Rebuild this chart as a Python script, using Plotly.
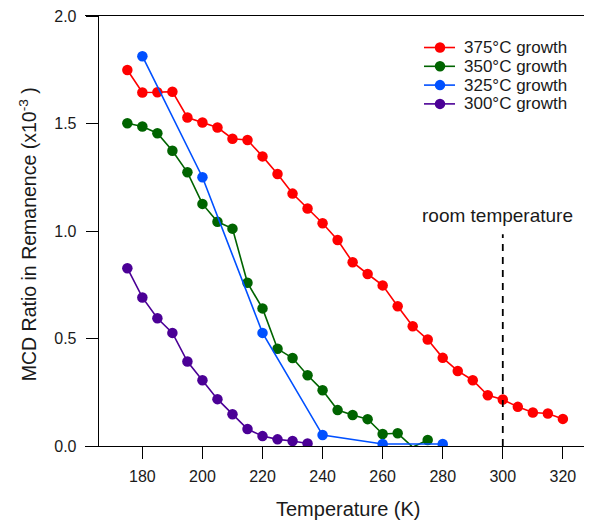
import plotly.graph_objects as go

# ---- data ----
temp_375 = [175, 180, 185, 190, 195, 200, 205, 210, 215, 220, 225, 230, 235, 240, 245,
            250, 255, 260, 265, 270, 275, 280, 285, 290, 295, 300, 305, 310, 315, 320]
mcd_375 = [1.749, 1.644, 1.645, 1.648, 1.528, 1.505, 1.481, 1.429, 1.423, 1.347, 1.265, 1.174,
           1.105, 1.036, 0.958, 0.855, 0.800, 0.747, 0.650, 0.557, 0.495, 0.410, 0.349, 0.306,
           0.236, 0.216, 0.182, 0.156, 0.151, 0.126]

temp_350 = [175, 180, 185, 190, 195, 200, 205, 210, 215, 220, 225, 230, 235, 240, 245,
            250, 255, 260, 265, 270, 275]
mcd_350 = [1.501, 1.486, 1.455, 1.373, 1.273, 1.126, 1.043, 1.011, 0.759, 0.640, 0.452, 0.409,
           0.329, 0.259, 0.167, 0.144, 0.125, 0.056, 0.059, -0.005, 0.028]

temp_325 = [180, 200, 220, 240, 260, 280]
mcd_325 = [1.813, 1.250, 0.526, 0.051, 0.009, 0.009]

temp_300 = [175, 180, 185, 190, 195, 200, 205, 210, 215, 220, 225, 230, 235]
mcd_300 = [0.827, 0.691, 0.594, 0.526, 0.393, 0.306, 0.218, 0.148, 0.079, 0.046, 0.031, 0.023, 0.012]

series_names = ["375°C growth", "350°C growth", "325°C growth", "300°C growth"]
x_ticks = [180, 200, 220, 240, 260, 280, 300, 320]
y_ticks = [0.0, 0.5, 1.0, 1.5, 2.0]
room_temp = 300
room_label = "room temperature"

# ---- styling ----
FONT = "Arial, Liberation Sans, Helvetica, sans-serif"
TXT = "#1a1a1a"
colors = ["#ff0000", "#006400", "#0050ff", "#4b0096"]
MS = 10.5

# page body has an 8px margin; plot area spans x 85..592, y 14..446.5 in window pixels
OFF = 8
PL, PR, PT, PB = 85, 592, 14, 446.5
PW, PH = PR - PL, PB - PT


def px_x(px):
    return (px - PL) / PW


def px_y(py):
    return (PB - py) / PH


fig = go.Figure()
data = [(temp_375, mcd_375), (temp_350, mcd_350), (temp_325, mcd_325), (temp_300, mcd_300)]
for (xs, ys), name, c in zip(data, series_names, colors):
    sizes = [0 if v < 0 else MS for v in ys]
    fig.add_trace(go.Scatter(
        x=xs, y=ys, name=name, mode="lines+markers", showlegend=False,
        line=dict(color=c, width=1.6),
        marker=dict(color=c, size=sizes, opacity=1, line=dict(width=0)),
    ))

# custom legend (compact row spacing like the reference)
for i, (name, c) in enumerate(zip(series_names, colors)):
    yc = 45.7 + i * 18.9
    fig.add_shape(type="line", xref="paper", yref="paper", x0=px_x(424), x1=px_x(455),
                  y0=px_y(yc), y1=px_y(yc), line=dict(color=c, width=1.6))
    fig.add_shape(type="circle", xref="paper", yref="paper", xsizemode="pixel", ysizemode="pixel",
                  xanchor=px_x(440), yanchor=px_y(yc), x0=-5.25, x1=5.25, y0=-5.25, y1=5.25,
                  fillcolor=c, line=dict(width=0))
    fig.add_annotation(x=px_x(462), y=px_y(yc), xref="paper", yref="paper", text=name,
                       showarrow=False, xanchor="left", yanchor="middle",
                       font=dict(family=FONT, size=17, color=TXT))

# room temperature dashed marker line
fig.add_shape(type="line", xref="x", yref="y", x0=room_temp, x1=room_temp, y0=0, y1=0.985,
              line=dict(color="black", width=1.8, dash="7px,6px"), layer="above")
fig.add_annotation(x=room_temp - 1.6, y=1.074, xref="x", yref="y", text=room_label,
                   showarrow=False, font=dict(family=FONT, size=19, color=TXT),
                   xanchor="center", yanchor="middle")

# axis titles
fig.add_annotation(x=px_x(348.5), y=px_y(510), xref="paper", yref="paper",
                   text="Temperature (K)", showarrow=False,
                   font=dict(family=FONT, size=20, color=TXT), xanchor="center", yanchor="middle")
fig.add_annotation(x=px_x(28), y=px_y(233.5), xref="paper", yref="paper",
                   text="MCD Ratio in Remanence (x10<sup>-3</sup> )", showarrow=False, textangle=-90,
                   font=dict(family=FONT, size=19.5, color=TXT), xanchor="center", yanchor="middle")

fig.update_layout(
    width=592 - OFF, height=523 - OFF,
    margin=dict(l=PL - OFF, r=0, t=PT - OFF, b=523 - PB, pad=0),
    paper_bgcolor="white", plot_bgcolor="white",
    font=dict(family=FONT, size=16, color=TXT),
    showlegend=False,
    xaxis=dict(range=[160.9, 329.7], tickvals=x_ticks, ticks="outside", ticklen=12,
               tickwidth=1, tickcolor="black", showline=True, linecolor="black", linewidth=1,
               mirror=True, showgrid=False, zeroline=False, ticklabeloverflow="allow",
               tickfont=dict(family=FONT, size=16, color=TXT), ticklabelstandoff=4),
    yaxis=dict(range=[0, 2], tickvals=y_ticks, tickformat=".1f", ticks="outside", ticklen=12,
               tickwidth=1, tickcolor="black", showline=True, linecolor="black", linewidth=1,
               showgrid=False, zeroline=False, anchor="free", position=12.7 / PW,
               ticklabeloverflow="allow",
               tickfont=dict(family=FONT, size=16, color=TXT), ticklabelstandoff=6),
)

fig.write_html("out.html")
